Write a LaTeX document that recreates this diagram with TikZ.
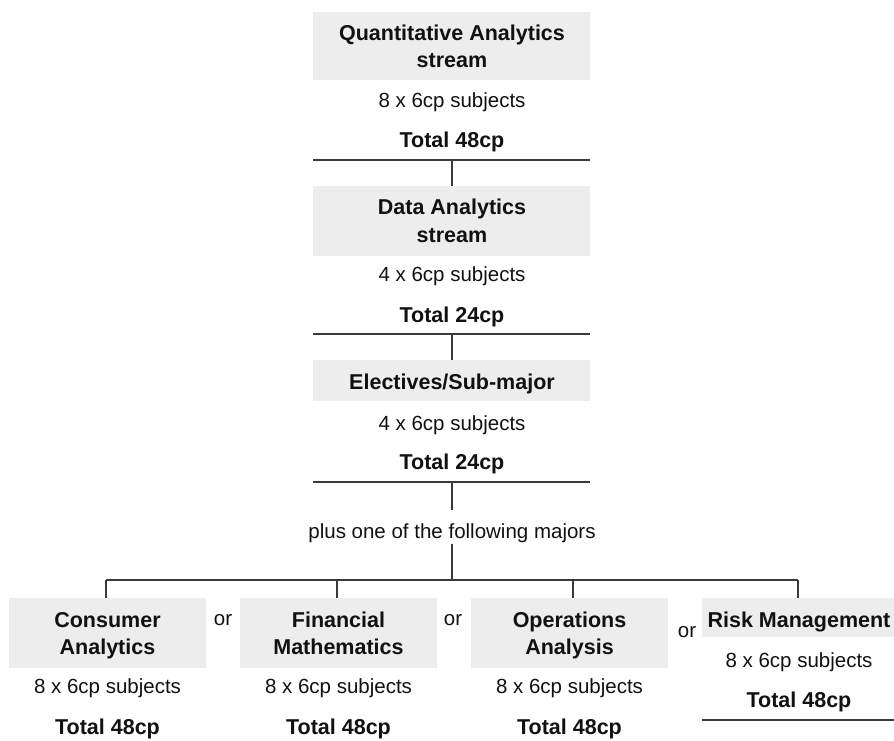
\documentclass[tikz,border=0pt]{standalone}
\usepackage{fontspec}
\setmainfont{Liberation Sans}
\definecolor{boxgray}{HTML}{EDEDED}
\definecolor{linegray}{HTML}{3A3A3A}
\definecolor{textblack}{HTML}{111111}
\begin{document}
\begin{tikzpicture}[x=1pt,y=-1pt,
  box/.style={fill=boxgray,draw=none,inner sep=0pt,anchor=north west},
  reg/.style={anchor=base,inner sep=0pt,text=textblack,font=\fontsize{20.5}{24}\selectfont},
  bld/.style={anchor=base,inner sep=0pt,text=textblack,font=\fontsize{21.5}{26}\selectfont\bfseries},
  rule/.style={draw=linegray,line width=1.3pt},
  conn/.style={draw=linegray,line width=1.3pt}]
\useasboundingbox (0,0) rectangle (894,740);

% ---------- Quantitative Analytics ----------
\node[box,minimum width=277pt,minimum height=68pt] (qbox) at (313,12) {};
\node[bld] (qt1) at (452,40) {Quantitative Analytics};
\node[bld] (qt2) at (452,67) {stream};
\node[reg] (qsub) at (452,107) {8 x 6cp subjects};
\node[bld] (qtot) at (452,147) {Total 48cp};
\coordinate (qrl) at (313,160);
\coordinate (qrr) at (590,160);
\draw[rule] (qrl) -- (qrr);

% ---------- Data Analytics ----------
\node[box,minimum width=277pt,minimum height=70pt] (dbox) at (313,186) {};
\node[bld] (dt1) at (452,214) {Data Analytics};
\node[bld] (dt2) at (452,242) {stream};
\node[reg] (dsub) at (452,281) {4 x 6cp subjects};
\node[bld] (dtot) at (452,322) {Total 24cp};
\coordinate (drl) at (313,334);
\coordinate (drr) at (590,334);
\draw[rule] (drl) -- (drr);
\coordinate (q1) at (452,160);
\draw[conn] (q1) -- (dbox.north -| q1);

% ---------- Electives ----------
\node[box,minimum width=277pt,minimum height=41pt] (ebox) at (313,360) {};
\node[bld] (et1) at (452,389) {Electives/Sub-major};
\node[reg] (esub) at (452,430) {4 x 6cp subjects};
\node[bld] (etot) at (452,469) {Total 24cp};
\coordinate (erl) at (313,482);
\coordinate (err) at (590,482);
\draw[rule] (erl) -- (err);
\coordinate (d1) at (452,334);
\draw[conn] (d1) -- (ebox.north -| d1);

% ---------- plus one ----------
\node[reg] (plus) at (452,538) {plus one of the following majors};
\coordinate (e1) at (452,482);
\coordinate (e2) at (452,510);
\draw[conn] (e1) -- (e2);
\coordinate (p1) at (452,544);
\coordinate (bus) at (452,580);
\draw[conn] (p1) -- (bus);

% ---------- majors ----------
\node[box,minimum width=197pt,minimum height=70pt] (cbox) at (9,598) {};
\node[bld] (ct1) at (107.5,627) {Consumer};
\node[bld] (ct2) at (107.5,654) {Analytics};
\node[reg] (csub) at (107.5,693) {8 x 6cp subjects};
\node[bld] (ctot) at (107.5,734) {Total 48cp};

\node[box,minimum width=197pt,minimum height=70pt] (fbox) at (240,598) {};
\node[bld] (ft1) at (338.5,627) {Financial};
\node[bld] (ft2) at (338.5,654) {Mathematics};
\node[reg] (fsub) at (338.5,693) {8 x 6cp subjects};
\node[bld] (ftot) at (338.5,734) {Total 48cp};

\node[box,minimum width=197pt,minimum height=70pt] (obox) at (471,598) {};
\node[bld] (ot1) at (569.5,627) {Operations};
\node[bld] (ot2) at (569.5,654) {Analysis};
\node[reg] (osub) at (569.5,693) {8 x 6cp subjects};
\node[bld] (otot) at (569.5,734) {Total 48cp};

\node[box,minimum width=192pt,minimum height=39pt] (rbox) at (702,598) {};
\node[bld] (rt1) at (799,627) {Risk Management};
\node[reg] (rsub) at (799,667) {8 x 6cp subjects};
\node[bld] (rtot) at (799,707) {Total 48cp};
\coordinate (rrl) at (702,720);
\coordinate (rrr) at (894,720);
\draw[rule] (rrl) -- (rrr);

\node[reg] (or1) at (223,625) {or};
\node[reg] (or2) at (453,625) {or};
\node[reg] (or3) at (687,637) {or};

% bus connectors
\coordinate (busL) at (106,580);
\coordinate (busR) at (798,580);
\draw[conn] (busL) -- (busR);
\draw[conn] (busL) -- (busL |- cbox.north);
\draw[conn] (337,580) -- (fbox.north -| 337,0);
\draw[conn] (573,580) -- (obox.north -| 573,0);
\draw[conn] (busR) -- (busR |- rbox.north);
\end{tikzpicture}
\end{document}
